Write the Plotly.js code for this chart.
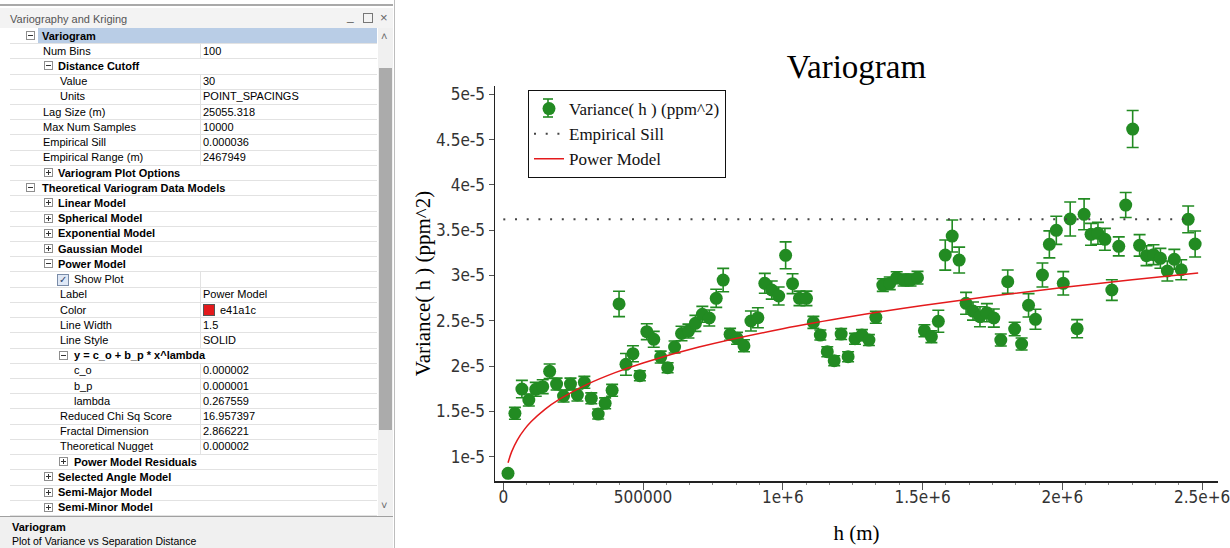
<!DOCTYPE html>
<html>
<head>
<meta charset="utf-8">
<script src="https://cdn.plot.ly/plotly-3.0.1.min.js"></script>
<style>
  html, body { margin:0; padding:0; background:#fff; }
  #wrap { position:relative; width:1230px; height:548px; overflow:hidden; }
  #chart { position:absolute; left:0; top:0; width:1230px; height:548px; }
  #panel { position:absolute; left:0; top:0; width:396px; height:548px; background:#fff;
           font-family:'Liberation Sans', Arial, sans-serif; font-size:11px; color:#000; z-index:5; }
  .abs { position:absolute; white-space:nowrap; }
  .ic { position:absolute; width:7px; height:7px; border:1px solid #8e8e8e; background:#fff; }
  .ic .h { position:absolute; left:1px; top:3px; width:5px; height:1px; background:#333; }
  .ic .v { position:absolute; left:3px; top:1px; width:1px; height:5px; background:#333; }
</style>
</head>
<body>
<div id="wrap">
  <div id="chart"></div>
  <div id="panel"></div>
</div>
<script>
// ---------------- chart data ----------------
const lagH = [16800, 41600, 66500, 91300, 116100, 141000, 165800, 190600, 215500, 240300,
  265100, 290000, 314800, 339600, 364400, 389300, 414100, 438900, 463800, 488600,
  513400, 538300, 563100, 587900, 612800, 637600, 662400, 687300, 712100, 736900,
  761800, 786600, 811400, 836300, 861100, 885900, 910800, 935600, 960400, 985200,
  1010100, 1034900, 1059700, 1084600, 1109400, 1134200, 1159100, 1183900, 1208700, 1233600,
  1258400, 1283200, 1308100, 1332900, 1357700, 1382600, 1407400, 1432200, 1457100, 1481900,
  1506700, 1531600, 1556400, 1581200, 1606000, 1630900, 1655700, 1680500, 1705400, 1730200,
  1755000, 1779900, 1804700, 1829500, 1854400, 1879200, 1904000, 1928900, 1953700, 1978500,
  2003400, 2028200, 2053000, 2077900, 2102700, 2127500, 2152400, 2177200, 2202000, 2226800,
  2251700, 2276500, 2301300, 2326200, 2351000, 2375800, 2400700, 2425500, 2450300, 2475200];

// variance in units of 1e-5 ppm^2
const varianceE5 = [0.817, 1.479, 1.747, 1.626, 1.744, 1.773, 1.943, 1.802, 1.670, 1.802,
  1.681, 1.821, 1.645, 1.471, 1.589, 1.733, 2.686, 2.020, 2.137, 1.894,
  2.380, 2.296, 2.100, 1.982, 2.211, 2.360, 2.387, 2.472, 2.572, 2.531,
  2.748, 2.950, 2.351, 2.307, 2.225, 2.498, 2.534, 2.914, 2.840, 2.774,
  3.223, 2.910, 2.748, 2.748, 2.483, 2.343, 2.159, 2.060, 2.354, 2.104,
  2.302, 2.343, 2.288, 2.539, 2.895, 2.914, 2.976, 2.950, 2.950, 2.976,
  2.391, 2.325, 2.495, 3.226, 3.436, 3.171, 2.693, 2.608, 2.545, 2.590,
  2.531, 2.288, 2.932, 2.410, 2.244, 2.671, 2.517, 3.006, 3.344, 3.499,
  2.914, 3.624, 2.413, 3.676, 3.455, 3.466, 3.400, 2.840, 3.322, 3.778,
  4.617, 3.333, 3.219, 3.230, 3.190, 3.050, 3.179, 3.064, 3.620, 3.348];

// error bar half-length, units of 1e-5 ppm^2
const errE5 = [0.02, 0.066, 0.096, 0.066, 0.077, 0.077, 0.08, 0.066, 0.066, 0.066,
  0.066, 0.066, 0.06, 0.055, 0.06, 0.066, 0.14, 0.12, 0.088, 0.055,
  0.088, 0.088, 0.066, 0.055, 0.066, 0.08, 0.077, 0.088, 0.088, 0.088,
  0.1, 0.129, 0.066, 0.066, 0.066, 0.11, 0.11, 0.11, 0.1, 0.1,
  0.149, 0.11, 0.08, 0.08, 0.066, 0.055, 0.055, 0.055, 0.06, 0.055,
  0.06, 0.06, 0.06, 0.066, 0.07, 0.07, 0.066, 0.066, 0.066, 0.07,
  0.066, 0.066, 0.121, 0.166, 0.177, 0.143, 0.121, 0.1, 0.11, 0.1,
  0.1, 0.066, 0.129, 0.074, 0.066, 0.129, 0.11, 0.132, 0.149, 0.155,
  0.129, 0.188, 0.1, 0.17, 0.121, 0.121, 0.121, 0.114, 0.105, 0.138,
  0.204, 0.119, 0.11, 0.11, 0.11, 0.11, 0.11, 0.11, 0.147, 0.143];

// power model curve
const modelH  = [17000, 30000, 50000, 75000, 100000, 150000, 200000, 300000, 400000, 500000,
  700000, 1000000, 1250000, 1500000, 1750000, 2000000, 2250000, 2486000];
const modelE5 = [0.933, 1.056, 1.184, 1.299, 1.388, 1.526, 1.633, 1.799, 1.928, 2.035,
  2.210, 2.413, 2.550, 2.668, 2.773, 2.867, 2.953, 3.028];

// empirical sill
const sillH  = [0, 2467949];
const sillE5 = [3.62, 3.62];

const xTickVals = [0, 500000, 1000000, 1500000, 2000000, 2500000];
const xTickText = ['0', '500000', '1e+6', '1.5e+6', '2e+6', '2.5e+6'];
const yTickValsE5 = [1, 1.5, 2, 2.5, 3, 3.5, 4, 4.5, 5];
const yTickText = ['1e-5', '1.5e-5', '2e-5', '2.5e-5', '3e-5', '3.5e-5', '4e-5', '4.5e-5', '5e-5'];

const seriesNames = ['Variance( h ) (ppm^2)', 'Empirical Sill', 'Power Model'];

const E5 = 1e-5;
const toE = a => a.map(v => v * E5);

const green = '#228b22';
const serif = "'Liberation Serif', 'Times New Roman', serif";
const tickFont = "'DejaVu Sans Condensed', 'Liberation Sans Narrow', 'DejaVu Sans', sans-serif";

const traces = [
  {
    type: 'scatter', mode: 'markers', name: seriesNames[0],
    x: lagH, y: toE(varianceE5),
    marker: { color: green, size: 13 },
    error_y: { type: 'data', array: toE(errE5), visible: true, color: green, thickness: 1.6, width: 6 },
    cliponaxis: false
  },
  {
    type: 'scatter', mode: 'lines', name: seriesNames[1],
    x: sillH, y: toE(sillE5),
    line: { color: '#444', width: 2, dash: '2px,9.7px' }
  },
  {
    type: 'scatter', mode: 'lines', name: seriesNames[2],
    x: modelH, y: toE(modelE5),
    line: { color: '#e41a1c', width: 1.5, shape: 'spline' }
  }
];

// plot-area geometry (px) used to place the legend's error-bar glyph
const PL = 495, PR = 1218, PT = 86, PB = 481;
const px2x = p => (p - PL) / (PR - PL);
const px2y = p => (PB - p) / (PB - PT);
const gx = 548, gy = 108;           // legend symbol centre
const glyph = { type: 'line', xref: 'paper', yref: 'paper', layer: 'above',
                line: { color: green, width: 1.6 } };

const layout = {
  width: 1230, height: 548,
  margin: { l: PL, r: 1230 - PR, t: PT, b: 548 - PB, pad: 0 },
  paper_bgcolor: '#fff', plot_bgcolor: '#fff',
  showlegend: true,
  title: { text: 'Variogram', font: { family: serif, size: 33, color: '#000' },
           x: 0.5, xref: 'paper', xanchor: 'center', y: 1 - 66/548, yref: 'container', yanchor: 'middle' },
  legend: {
    x: px2x(528), y: px2y(90), xanchor: 'left', yanchor: 'top',
    bgcolor: 'rgba(255,255,255,0)', bordercolor: '#111', borderwidth: 1,
    font: { family: serif, size: 17, color: '#111' }
  },
  shapes: [
    { type: 'rect', xref: 'paper', yref: 'paper', layer: 'above',
      x0: px2x(528), x1: px2x(726), y0: px2y(90), y1: px2y(176),
      fillcolor: '#fff', line: { width: 0 } },
    Object.assign({}, glyph, { x0: px2x(gx), x1: px2x(gx), y0: px2y(gy - 9), y1: px2y(gy + 9) }),
    Object.assign({}, glyph, { x0: px2x(gx - 5), x1: px2x(gx + 5), y0: px2y(gy - 9), y1: px2y(gy - 9) }),
    Object.assign({}, glyph, { x0: px2x(gx - 5), x1: px2x(gx + 5), y0: px2y(gy + 9), y1: px2y(gy + 9) })
  ],
  xaxis: {
    range: [-29700, 2557000], showgrid: false, zeroline: false,
    showline: true, linecolor: '#222', linewidth: 1.5,
    ticks: 'outside', ticklen: 7, tickcolor: '#555', tickwidth: 1,
    tickmode: 'array', tickvals: xTickVals, ticktext: xTickText,
    tickfont: { family: tickFont, size: 17, color: '#333' },
    ticklabeloverflow: 'allow', ticklabelstandoff: -7,
    minor: { dtick: 500000/6, tick0: 0, ticks: 'outside', ticklen: 2, tickcolor: '#888', showgrid: false },
    title: { text: 'h (m)', font: { family: serif, size: 21, color: '#000' }, standoff: 19 },
    automargin: false
  },
  yaxis: {
    range: [0.732e-5, 5.092e-5], showgrid: false, zeroline: false,
    showline: true, linecolor: '#222', linewidth: 1.5,
    ticks: 'outside', ticklen: 5, tickcolor: '#555', tickwidth: 1,
    tickmode: 'array', tickvals: toE(yTickValsE5), ticktext: yTickText,
    tickfont: { family: tickFont, size: 17, color: '#333' },
    title: { text: 'Variance( h ) (ppm^2)', font: { family: serif, size: 21, color: '#000' }, standoff: 0 },
    automargin: false
  }
};

Plotly.newPlot('chart', traces, layout, { displayModeBar: false, staticPlot: true });

// ---------------- property panel ----------------
// [indent level, kind, label, value]
const panelRows = [
  [0, 'catOpen', 'Variogram', ''],
  [0, 'prop', 'Num Bins', '100'],
  [1, 'catOpen', 'Distance Cutoff', ''],
  [2, 'prop', 'Value', '30'],
  [2, 'prop', 'Units', 'POINT_SPACINGS'],
  [0, 'prop', 'Lag Size (m)', '25055.318'],
  [0, 'prop', 'Max Num Samples', '10000'],
  [0, 'prop', 'Empirical Sill', '0.000036'],
  [0, 'prop', 'Empirical Range (m)', '2467949'],
  [1, 'catClosed', 'Variogram Plot Options', ''],
  [0, 'catOpen', 'Theoretical Variogram Data Models', ''],
  [1, 'catClosed', 'Linear Model', ''],
  [1, 'catClosed', 'Spherical Model', ''],
  [1, 'catClosed', 'Exponential Model', ''],
  [1, 'catClosed', 'Gaussian Model', ''],
  [1, 'catOpen', 'Power Model', ''],
  [2, 'check', 'Show Plot', ''],
  [2, 'prop', 'Label', 'Power Model'],
  [2, 'color', 'Color', 'e41a1c'],
  [2, 'prop', 'Line Width', '1.5'],
  [2, 'prop', 'Line Style', 'SOLID'],
  [2, 'catOpen', 'y = c_o + b_p * x^lambda', ''],
  [3, 'prop', 'c_o', '0.000002'],
  [3, 'prop', 'b_p', '0.000001'],
  [3, 'prop', 'lambda', '0.267559'],
  [2, 'prop', 'Reduced Chi Sq Score', '16.957397'],
  [2, 'prop', 'Fractal Dimension', '2.866221'],
  [2, 'prop', 'Theoretical Nugget', '0.000002'],
  [2, 'catClosed', 'Power Model Residuals', ''],
  [1, 'catClosed', 'Selected Angle Model', ''],
  [1, 'catClosed', 'Semi-Major Model', ''],
  [1, 'catClosed', 'Semi-Minor Model', '']
];
const panelTitle = 'Variography and Kriging';
const descTitle = 'Variogram';
const descText = 'Plot of Variance vs Separation Distance';

const panel = document.getElementById('panel');
function el(tag, css, text) {
  const d = document.createElement(tag);
  d.className = 'abs';
  d.style.cssText += css;
  if (text !== undefined) d.textContent = text;
  panel.appendChild(d);
  return d;
}
// top separator & header
el('div', 'left:0;top:4px;width:393px;height:2px;background:#a9a9a9;');
el('div', 'left:0;top:8px;width:393px;height:20px;background:#f3f3f3;');
el('div', 'left:10px;top:13px;color:#555;font-size:11px;', panelTitle);
el('div', 'left:347px;top:9px;color:#666;font-size:12px;', '_');
el('div', 'left:363px;top:13px;width:8px;height:8px;border:1px solid #777;');
el('div', 'left:380px;top:10px;color:#666;font-size:13px;', '×');
// right border of the panel
el('div', 'left:394px;top:0;width:1px;height:548px;background:#bdbdbd;');

const rowH = 15.22, rowC0 = 35.5;
const catIcon = [30, 48, 63, 78];
const catText = [42, 58, 74, 88];
const propText = [43, 58, 60, 74];
panelRows.forEach((r, i) => {
  const [lvl, kind, label, value] = r;
  const cy = rowC0 + rowH * i;
  const top = cy - rowH / 2;
  const ty = (cy - 6).toFixed(1);
  if (i === 0) el('div', `left:38px;top:${top}px;width:339px;height:${rowH}px;background:#b9cde6;`);
  // row separator
  el('div', `left:10px;top:${(top + rowH).toFixed(1)}px;width:367px;height:1px;background:#e2e2e2;`);
  if (kind === 'catOpen' || kind === 'catClosed') {
    const ic = el('div', `left:${catIcon[lvl]-4}px;top:${(cy-4.5).toFixed(1)}px;`);
    ic.className = 'ic';
    const h = document.createElement('div'); h.className = 'h'; ic.appendChild(h);
    if (kind === 'catClosed') { const v = document.createElement('div'); v.className = 'v'; ic.appendChild(v); }
    el('div', `left:${catText[lvl]}px;top:${ty}px;font-weight:bold;`, label);
  } else {
    el('div', `left:200px;top:${top}px;width:1px;height:${rowH}px;background:#e2e2e2;`);
    if (kind === 'check') {
      el('div', `left:57px;top:${(cy-5.5).toFixed(1)}px;width:10px;height:10px;border:1px solid #7a8ca8;background:#dfe8f6;font-size:10px;line-height:10px;text-align:center;color:#2a3f6a;`, '✓');
      el('div', `left:74px;top:${ty}px;`, label);
    } else {
      el('div', `left:${propText[lvl]}px;top:${ty}px;`, label);
      if (kind === 'color') {
        el('div', `left:203px;top:${(cy-5.5).toFixed(1)}px;width:10px;height:10px;background:#e41a1c;border:1px solid #555;`);
        el('div', `left:220px;top:${ty}px;`, value);
      } else {
        el('div', `left:203px;top:${ty}px;`, value);
      }
    }
  }
});
// scrollbar
el('div', 'left:378px;top:28px;width:15px;height:488px;background:#f0f0f0;');
el('div', 'left:379px;top:68px;width:13px;height:362px;background:#ababab;');
el('div', 'left:381px;top:30px;color:#666;font-size:11px;', '˄');
el('div', 'left:381px;top:499px;color:#666;font-size:11px;', '˅');
// description area
el('div', 'left:0;top:516px;width:393px;height:32px;background:#f0f0f0;border-top:1px solid #a0a0a0;');
el('div', 'left:12px;top:521px;font-weight:bold;', descTitle);
el('div', 'left:12px;top:535px;font-size:10.5px;', descText);
</script>
</body>
</html>
